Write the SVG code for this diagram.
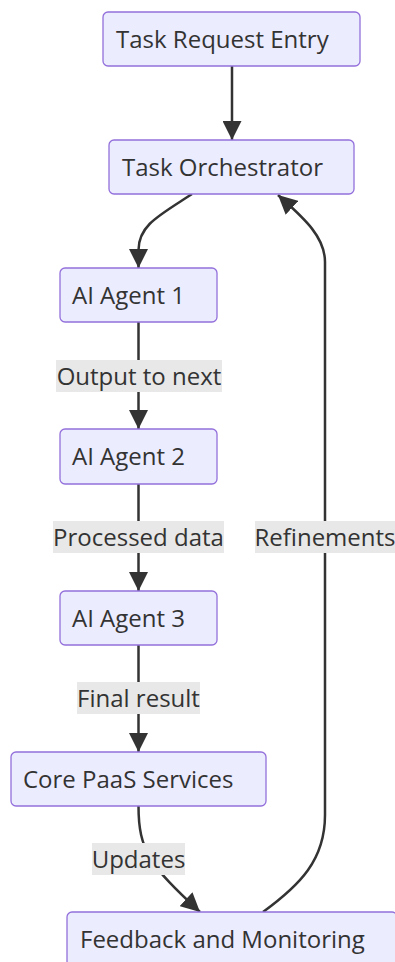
<svg xmlns="http://www.w3.org/2000/svg" width="395" height="962" viewBox="0 0 395 962">
  <style>
    .node rect { fill: #ECECFF; stroke: #9370DB; stroke-width: 1.3; }
    .node text { font-family: "Open Sans", "Noto Sans", sans-serif; font-size: 24px; fill: #333; }
    .edge { fill: none; stroke: #333; stroke-width: 2.5; }
    .lbl rect { fill: #e8e8e8; }
    .lbl text { font-family: "Open Sans", "Noto Sans", sans-serif; font-size: 24px; fill: #333; text-anchor: middle; }
  </style>
  <defs>
    <marker id="arrow" viewBox="0 0 10 10" refX="10" refY="5" markerUnits="userSpaceOnUse" markerWidth="19" markerHeight="19" orient="auto">
      <path d="M0,0 L10,5 L0,10 z" fill="#333"/>
    </marker>
  </defs>

  <!-- connectors -->
  <g id="edges">
    <path class="edge" d="M232,66 L232,140" marker-end="url(#arrow)"/>
    <path class="edge" d="M192,194 C160,215 138.5,225 138.5,250 L138.5,268" marker-end="url(#arrow)"/>
    <path class="edge" d="M138.5,322 L138.5,429" marker-end="url(#arrow)"/>
    <path class="edge" d="M138.5,484 L138.5,591" marker-end="url(#arrow)"/>
    <path class="edge" d="M138.5,645 L138.5,752" marker-end="url(#arrow)"/>
    <path class="edge" d="M138.5,806 C138.5,850 150,866 200,912" marker-end="url(#arrow)"/>
    <path class="edge" d="M263,912 C300,885 325,860 325,815 L325,262 C325,235 300,215 278,195" marker-end="url(#arrow)"/>
  </g>

  <!-- edge labels -->
  <g id="edge-labels">
    <g class="lbl"><rect x="56" y="360" width="166" height="32"/><text x="139" y="384.5">Output to next</text></g>
    <g class="lbl"><rect x="53" y="521" width="171" height="32"/><text x="138.5" y="545.5">Processed data</text></g>
    <g class="lbl"><rect x="255" y="521" width="140" height="32"/><text x="325" y="545.5">Refinements</text></g>
    <g class="lbl"><rect x="77" y="682" width="123" height="32"/><text x="138.5" y="706.5">Final result</text></g>
    <g class="lbl"><rect x="92" y="843" width="93" height="32"/><text x="138.5" y="867.5">Updates</text></g>
  </g>

  <!-- nodes -->
  <g id="task-entry" class="node"><rect x="103" y="12" width="257" height="54" rx="5"/><text x="116" y="47.5">Task Request Entry</text></g>
  <g id="orchestrator" class="node"><rect x="109" y="140" width="245" height="54" rx="5"/><text x="122" y="175.5">Task Orchestrator</text></g>
  <g id="agent1" class="node"><rect x="60" y="268" width="157" height="54" rx="5"/><text x="72" y="303.5">AI Agent 1</text></g>
  <g id="agent2" class="node"><rect x="60" y="429" width="157" height="55" rx="5"/><text x="72" y="464.5">AI Agent 2</text></g>
  <g id="agent3" class="node"><rect x="60" y="591" width="157" height="54" rx="5"/><text x="72" y="626.5">AI Agent 3</text></g>
  <g id="core-paas" class="node"><rect x="11" y="752" width="255" height="54" rx="5"/><text x="23" y="787.5">Core PaaS Services</text></g>
  <g id="feedback" class="node"><rect x="67" y="912" width="330" height="54" rx="5"/><text x="80" y="948">Feedback and Monitoring</text></g>
</svg>
